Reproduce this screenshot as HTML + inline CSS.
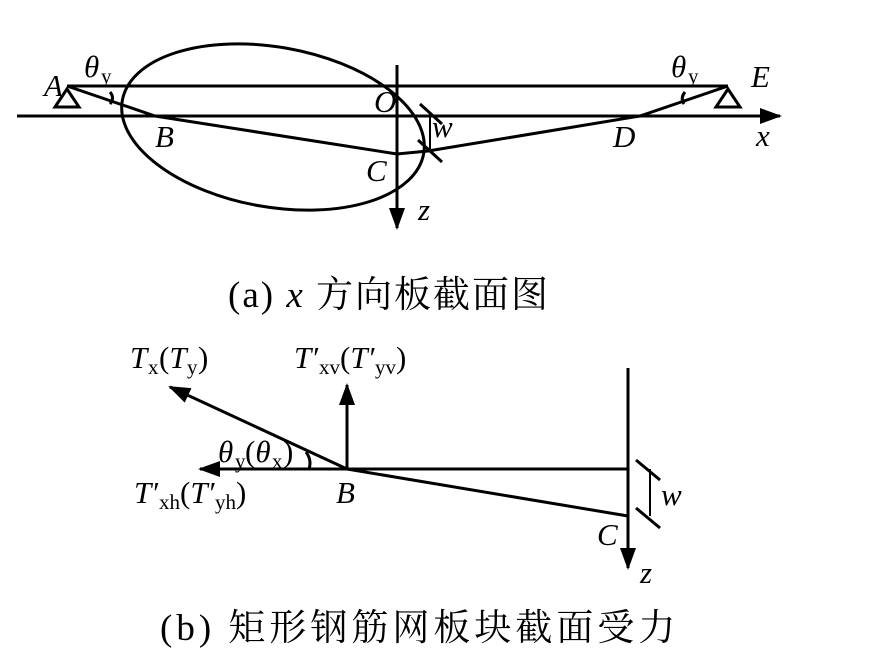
<!DOCTYPE html>
<html><head><meta charset="utf-8"><style>
html,body{margin:0;padding:0;background:#fff;}
svg{display:block;}
text{font-family:"Liberation Serif","Noto Serif CJK SC",serif;fill:#000;}
.i{font-style:italic;}
</style></head><body>
<svg width="879" height="668" viewBox="0 0 879 668" xmlns="http://www.w3.org/2000/svg">
<defs>
<marker id="ab" markerWidth="22" markerHeight="16" refX="20" refY="8" orient="auto" markerUnits="userSpaceOnUse">
<path d="M0,0 L22,8 L0,16 z" fill="#000"/></marker>
</defs>
<g stroke="#000" stroke-width="3" fill="none">
<line x1="67" y1="86" x2="728" y2="86"/>
<line x1="17" y1="116" x2="780" y2="116" marker-end="url(#ab)"/>
<line x1="397" y1="65" x2="397" y2="228" marker-end="url(#ab)"/>
<ellipse cx="273" cy="127" rx="153" ry="80" transform="rotate(10 273 127)"/>
<polyline points="67,86 155,116 397,154 428,151 640,116 728,86"/>
<path d="M55,107 L67,89 L79,107 Z"/>
<path d="M716,107 L728,89 L740,107 Z"/>
<path d="M110,92 Q115,98 110,104"/>
<path d="M685,92 Q680,98 684,104"/>
<line x1="420" y1="104" x2="442" y2="124"/>
<line x1="418" y1="140" x2="442" y2="162"/>
<line x1="430" y1="117" x2="430" y2="151" stroke-width="2"/>
<line x1="628" y1="368" x2="628" y2="568" marker-end="url(#ab)"/>
<line x1="628" y1="469" x2="200" y2="469" marker-end="url(#ab)"/>
<line x1="347" y1="469" x2="347" y2="385" marker-end="url(#ab)"/>
<line x1="347" y1="469" x2="170" y2="387" marker-end="url(#ab)"/>
<line x1="347" y1="469" x2="628" y2="516"/>
<path d="M306,452 Q312,460 309,469"/>
<line x1="636" y1="460" x2="660" y2="480"/>
<line x1="636" y1="508" x2="660" y2="528"/>
<line x1="650" y1="469" x2="650" y2="516" stroke-width="2"/>
</g>
<g font-size="31">
<text x="44" y="96" class="i">A</text>
<text x="84" y="77" class="i">θ</text><text x="101" y="83" font-size="21">y</text>
<text x="671" y="77" class="i">θ</text><text x="688" y="83" font-size="21">y</text>
<text x="751" y="87" class="i">E</text>
<text x="374" y="112" class="i">O</text>
<text x="155" y="147" class="i">B</text>
<text x="613" y="147" class="i">D</text>
<text x="756" y="146" class="i">x</text>
<text x="366" y="181" class="i">C</text>
<text x="432" y="137" class="i">w</text>
<text x="418" y="220" class="i">z</text>
<text x="228" y="307" font-size="37" letter-spacing="2">(a) <tspan class="i">x</tspan> 方向板截面图</text>
<text x="130" y="368" class="i">T</text><text x="148" y="374" font-size="21">x</text><text x="159" y="368">(<tspan class="i">T</tspan></text><text x="187" y="374" font-size="21">y</text><text x="198" y="368">)</text>
<text x="294" y="368" class="i">T′</text><text x="319" y="374" font-size="21">xv</text><text x="340" y="368">(<tspan class="i">T′</tspan></text><text x="375" y="374" font-size="21">yv</text><text x="396" y="368">)</text>
<text x="218" y="462" class="i">θ</text><text x="235" y="468" font-size="21">y</text><text x="245" y="462">(<tspan class="i">θ</tspan></text><text x="272" y="468" font-size="21">x</text><text x="283" y="462">)</text>
<text x="134" y="503" class="i">T′</text><text x="159" y="509" font-size="21">xh</text><text x="180" y="503">(<tspan class="i">T′</tspan></text><text x="215" y="509" font-size="21">yh</text><text x="236" y="503">)</text>
<text x="336" y="503" class="i">B</text>
<text x="597" y="545" class="i">C</text>
<text x="661" y="505" class="i">w</text>
<text x="640" y="583" class="i">z</text>
<text x="160" y="640" font-size="37" letter-spacing="4">(b)  矩形钢筋网板块截面受力</text>
</g>
</svg>
</body></html>
